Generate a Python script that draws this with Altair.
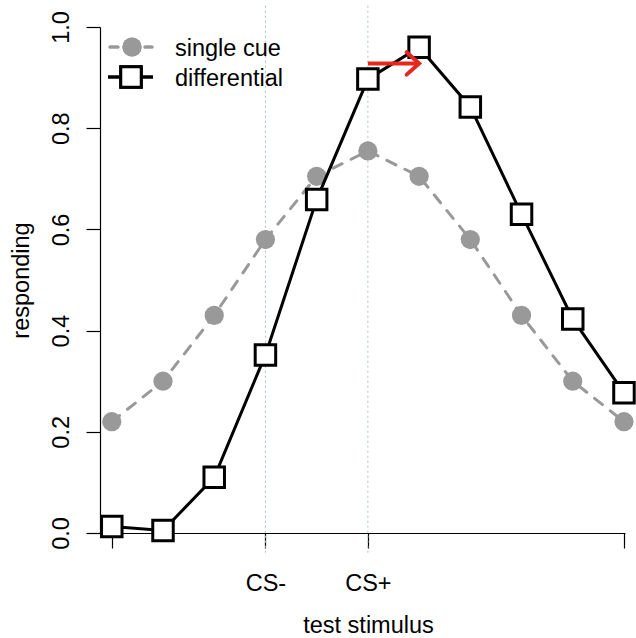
import altair as alt
import pandas as pd

# Generalisation gradients over 11 test stimuli
stimulus = list(range(1, 12))
single_cue = [0.22, 0.30, 0.43, 0.58, 0.705, 0.755, 0.705, 0.58, 0.43, 0.30, 0.22]
differential = [0.013, 0.005, 0.11, 0.352, 0.659, 0.897, 0.96, 0.842, 0.63, 0.423, 0.277]
series_names = ["single cue", "differential"]

# x-axis ticks and their labels
tick_positions = [1, 4, 6, 11]
tick_labels = ["", "CS-", "CS+", ""]
# reference lines through the trained stimuli
cs_positions = [4, 6]
y_ticks = [0.0, 0.2, 0.4, 0.6, 0.8, 1.0]

# peak-shift arrow
arrow_from = [6]
arrow_to = [7]
arrow_level = [0.928]

FONT = "Liberation Sans"
FS = 23.5
GRAY = "#999999"
RED = "#e5281e"

single_df = pd.DataFrame({"stimulus": stimulus, "responding": single_cue})
diff_df = pd.DataFrame({"stimulus": stimulus, "responding": differential})
cs_df = pd.DataFrame({"stimulus": cs_positions, "top": [1.042] * len(cs_positions),
                      "bottom": [-0.039] * len(cs_positions)})
arrow_df = pd.DataFrame({"x0": arrow_from, "x1": arrow_to, "y": arrow_level})

label_expr = "''"
for pos, lab in reversed(list(zip(tick_positions, tick_labels))):
    label_expr = f"datum.value == {pos} ? '{lab}' : ({label_expr})"

x_scale = alt.Scale(domain=[0.77, 11.02], nice=False, zero=False)
y_scale = alt.Scale(domain=[0, 1], nice=False, zero=False)

x_axis = alt.Axis(
    values=tick_positions, labelExpr=label_expr, grid=False,
    tickSize=15, tickColor="black", tickWidth=1.2,
    domainColor="black", domainWidth=1.2,
    labelFont=FONT, labelFontSize=FS, labelColor="black",
    labelPadding=42, labelBaseline="alphabetic", labelAlign="center",
    labelFlush=False, labelOverlap=False,
    title="test stimulus", titleFont=FONT, titleFontSize=FS,
    titleFontWeight="normal", titleColor="black",
    titleX=268, titleY=99, titleBaseline="alphabetic", titleAlign="center",
)
y_axis = alt.Axis(
    values=y_ticks, format=".1f", grid=False,
    tickSize=14, tickColor="black", tickWidth=1.2,
    domainColor="black", domainWidth=1.2,
    labelFont=FONT, labelFontSize=FS, labelColor="black",
    labelAngle=270, labelAlign="center", labelBaseline="alphabetic",
    labelPadding=18, labelFlush=False, labelOverlap=False,
    title="responding", titleFont=FONT, titleFontSize=FS,
    titleFontWeight="normal", titleColor="black", titleAngle=270,
    titleX=-72, titleY=253, titleBaseline="alphabetic", titleAlign="center",
)

x_enc = alt.X("stimulus:Q", scale=x_scale, axis=x_axis)
y_enc = alt.Y("responding:Q", scale=y_scale, axis=y_axis)

cs_lines = alt.Chart(cs_df).mark_rule(
    color="#a8bfcd", strokeWidth=1, strokeDash=[2, 3]
).encode(
    x=alt.X("stimulus:Q", scale=x_scale, axis=x_axis),
    y=alt.Y("top:Q", scale=y_scale, axis=y_axis),
    y2="bottom:Q",
)

single_line = alt.Chart(single_df).mark_line(
    color=GRAY, strokeWidth=3, strokeDash=[10, 10], strokeCap="round"
).encode(x=x_enc, y=y_enc)
single_pts = alt.Chart(single_df).mark_point(
    shape="circle", filled=True, color=GRAY, size=370, opacity=1, strokeWidth=0
).encode(x=x_enc, y=y_enc)

diff_line = alt.Chart(diff_df).mark_line(
    color="black", strokeWidth=3
).encode(x=x_enc, y=y_enc)
diff_pts = alt.Chart(diff_df).mark_point(
    shape="square", filled=True, fill="white", stroke="black",
    strokeWidth=3, size=420, opacity=1
).encode(x=x_enc, y=y_enc)

arrow_shaft = alt.Chart(arrow_df).mark_rule(
    color=RED, strokeWidth=4
).encode(x="x0:Q", x2="x1:Q", y="y:Q")
arrow_head = alt.Chart(arrow_df).mark_point(
    shape="M-1,-0.9L0,0L-1,0.9", filled=False, stroke=RED, strokeWidth=4,
    size=620, opacity=1, strokeCap="round"
).encode(x="x1:Q", y="y:Q")

# legend keys in the upper-left corner
legend_df = pd.DataFrame({"label": series_names})
leg_rows = [20, 50]
key_single_line = alt.Chart(legend_df).mark_rule(
    color=GRAY, strokeWidth=3, strokeDash=[8, 27], strokeCap="round"
).encode(x=alt.value(10), x2=alt.value(52), y=alt.value(leg_rows[0]))
key_single_pt = alt.Chart(legend_df).mark_point(
    shape="circle", filled=True, color=GRAY, size=370, opacity=1, strokeWidth=0
).encode(x=alt.value(32), y=alt.value(leg_rows[0]))
key_diff_line = alt.Chart(legend_df).mark_rule(
    color="black", strokeWidth=3
).encode(x=alt.value(8), x2=alt.value(53), y=alt.value(leg_rows[1]))
key_diff_pt = alt.Chart(legend_df).mark_point(
    shape="square", filled=True, fill="white", stroke="black",
    strokeWidth=3, size=420, opacity=1
).encode(x=alt.value(31), y=alt.value(leg_rows[1]))
key_text = [
    alt.Chart(legend_df.iloc[[i]]).mark_text(
        font=FONT, fontSize=FS, color="black", align="left", baseline="alphabetic"
    ).encode(x=alt.value(75), y=alt.value(leg_rows[i] + 9), text="label:N")
    for i in range(len(series_names))
]

chart = alt.layer(
    cs_lines, single_line, single_pts, diff_line, diff_pts,
    arrow_shaft, arrow_head,
    key_single_line, key_single_pt, key_diff_line, key_diff_pt, *key_text,
).properties(
    width=525, height=506,
    padding={"left": 100, "top": 27, "right": 11, "bottom": 105},
    autosize=alt.AutoSizeParams(type="none"),
    background="white",
).configure_view(stroke=None)

chart.save("out.html", embed_options={"renderer": "svg", "actions": False})
